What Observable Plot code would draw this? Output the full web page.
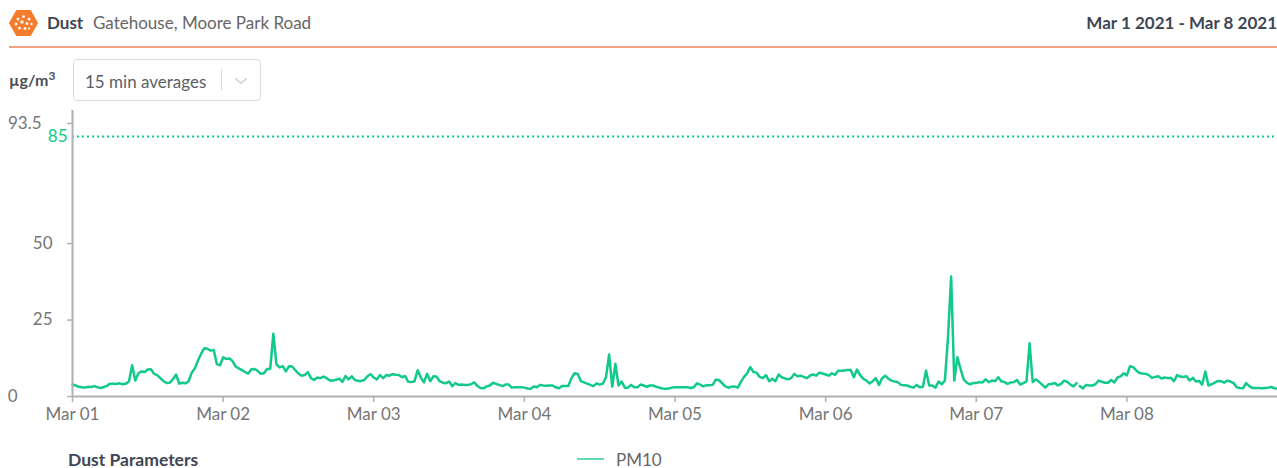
<!DOCTYPE html>
<html><head><meta charset="utf-8">
<style>
html,body{margin:0;padding:0;background:#fff;width:1277px;height:468px;overflow:hidden;font-family:Lato,sans-serif}
#wrap{position:relative;width:1277px;height:468px}
#head{position:relative;height:102px}
.abs{position:absolute;white-space:nowrap;line-height:1}
#chart svg{display:block}
#foot{position:relative;height:28px}
</style>
</head><body>
<div id="wrap">
<div id="head">
<svg class="abs" style="left:9px;top:10px" width="29" height="26" viewBox="0 0 29 26">
<polygon points="7.5,0.5 21.5,0.5 28.5,13 21.5,25.5 7.5,25.5 0.5,13" fill="#f47c2c" stroke="#f47c2c" stroke-linejoin="round" stroke-width="1"/>
<g fill="#fff" opacity="0.9"><circle cx="9" cy="9" r="1.5"/><circle cx="14.5" cy="6.5" r="1.5"/><circle cx="20" cy="9" r="1.5"/><circle cx="7" cy="14" r="1.5"/><circle cx="13" cy="12" r="1.8"/><circle cx="18" cy="13.5" r="1.5"/><circle cx="22.5" cy="14" r="1.2"/><circle cx="10.5" cy="18" r="1.5"/><circle cx="16" cy="18.5" r="1.5"/><circle cx="20" cy="18.5" r="1.1"/></g>
</svg>
<div class="abs" style="left:47px;top:14px;font-size:17px;font-weight:700;color:#3f4654">Dust</div>
<div class="abs" style="left:93px;top:14px;font-size:17px;color:#666">Gatehouse, Moore Park Road</div>
<div class="abs" style="right:0;top:14px;font-size:17px;font-weight:700;color:#3f4654">Mar 1 2021 - Mar 8 2021</div>
<div class="abs" style="left:9px;top:46px;width:1268px;height:2px;background:#f0a485"></div>
<div class="abs" style="left:9px;top:72px;font-size:16px;font-weight:700;color:#4a505c">µg/m<sup style="font-size:12px;line-height:0">3</sup></div>
<div class="abs" style="left:73px;top:59px;width:186px;height:40px;border:1px solid #d9dde2;border-radius:4px"></div>
<div class="abs" style="left:85px;top:73px;font-size:17px;color:#5a5f66">15 min averages</div>
<div class="abs" style="left:221px;top:69px;width:1px;height:21px;background:#d9d9d9"></div>
<svg class="abs" style="left:234px;top:77px" width="14" height="8"><path d="M1.5 1.5 L7 6.5 L12.5 1.5" fill="none" stroke="#cfcfcf" stroke-width="1.6"/></svg>
</div>
<div id="chart"></div>
<div id="foot">
<div class="abs" style="left:68px;top:12px;height:15px;line-height:15px;font-size:17.5px;font-weight:700;color:#3f4654">Dust Parameters</div>
<div class="abs" style="left:577px;top:18px;width:27px;height:2px;background:#5fdcb0"></div>
<div class="abs" style="left:616px;top:12px;height:15px;line-height:15px;font-size:17px;color:#666">PM10</div>
</div>
</div>
<script src="https://cdn.jsdelivr.net/npm/d3@7"></script>
<script src="https://cdn.jsdelivr.net/npm/@observablehq/plot@0.6"></script>
<script>
// PM10 half-hourly readings (µg/m3), one list per day
const mar01 = [3.9,3.6,3.2,3.0,2.9,3.2,3.1,3.4,3.0,2.8,3.1,3.5,4.2,4.2,4.1,4.3,4.0,4.2,4.9,10.2,5.2,7.6,8.2,8.0,8.8,8.9,7.4,7.0,6.0,5.0,4.4,4.5,5.6,7.2,4.2,4.5,4.3,5.0,7.8,9.2,11.8,14.0,15.8,15.6,15.0,15.2,10.6,10.2];
const mar02 = [12.8,12.3,12.4,11.6,9.8,9.2,8.6,8.0,7.5,8.9,9.0,8.4,7.4,7.6,9.0,9.0,20.5,10.5,9.5,9.9,8.2,9.9,9.8,8.6,7.5,6.8,7.0,8.0,6.0,5.4,6.2,6.0,6.5,6.0,5.2,5.2,5.5,5.8,4.8,6.7,5.6,6.6,5.4,5.1,5.1,5.4,6.6,7.3];
const mar03 = [6.2,5.6,7.0,6.0,7.0,6.8,7.3,7.1,7.0,6.3,6.7,4.8,4.7,5.0,8.6,6.2,4.6,7.4,5.0,6.6,6.5,5.0,4.5,4.3,4.9,3.4,4.4,3.8,3.9,3.8,3.8,4.0,4.6,3.5,2.8,2.7,3.3,3.6,4.5,4.1,3.8,3.4,3.9,3.9,2.9,3.0,3.0,3.0];
const mar04 = [2.9,2.6,2.5,3.3,3.0,3.8,3.6,3.5,3.6,3.6,3.0,2.7,3.4,3.4,3.4,6.0,7.6,7.4,5.0,4.6,4.2,3.8,3.4,4.3,3.9,4.2,6.2,13.7,3.2,10.7,3.6,4.9,2.9,2.9,3.8,3.0,3.0,3.9,3.6,3.2,3.6,3.6,3.2,2.9,2.6,2.5,2.6,2.9];
const mar05 = [3.0,3.0,3.0,3.0,3.0,2.8,3.0,4.3,3.9,3.3,3.7,3.7,3.8,5.5,5.4,4.4,3.3,2.9,3.2,3.3,2.9,4.8,6.4,7.6,9.6,8.0,7.8,6.4,6.0,7.0,5.0,5.8,5.0,7.2,6.3,5.9,5.6,6.0,7.4,6.6,6.8,6.4,6.0,6.8,7.2,6.8,7.8,7.5];
const mar06 = [7.2,6.8,7.6,7.1,8.4,8.4,8.5,8.7,8.7,6.3,8.8,7.0,5.8,5.2,4.3,5.0,6.0,3.8,6.0,6.8,5.8,5.2,4.9,4.7,3.8,3.7,3.6,3.2,2.9,3.8,3.0,3.2,8.5,3.6,3.6,2.9,4.9,4.0,5.2,19.4,39.2,5.2,12.8,9.0,5.6,4.5,4.0,4.4];
const mar07 = [4.4,4.7,4.6,5.6,4.7,5.2,5.0,6.3,5.0,4.7,4.1,4.6,4.7,5.4,3.9,4.4,4.9,17.4,4.7,5.6,4.8,3.9,2.9,4.0,4.1,4.4,3.6,4.1,5.2,4.8,3.9,3.3,4.4,3.4,2.6,3.8,3.6,3.6,4.0,5.2,4.8,4.5,4.5,5.4,4.6,6.2,6.6,7.6];
const mar08 = [6.9,9.9,9.6,8.5,7.7,7.5,7.4,7.0,6.1,6.4,6.6,5.9,6.2,6.0,6.1,5.0,7.0,6.5,6.4,6.6,5.2,6.1,4.9,5.1,3.9,8.2,3.6,4.0,4.5,5.1,5.0,4.5,5.2,4.9,4.4,3.0,2.8,2.7,4.4,3.4,2.8,2.8,2.8,2.7,2.8,2.9,3.1,2.7];
const lastReading = [2.6];
const gapTimes = ["2021-03-07T16:15Z"];

const seriesStart = new Date("2021-03-01T00:00Z");
const seriesEnd = new Date("2021-03-09T00:00Z");
const dayTicks = d3.utcDay.range(seriesStart, new Date("2021-03-08T12:00Z"));
const yLimit = 85, yTop = 93.5;
const green = "#10c98a", axisGrey = "#b0b0b0", labelGrey = "#757575";

const readings = [...mar01,...mar02,...mar03,...mar04,...mar05,...mar06,...mar07,...mar08,...lastReading]
  .map((v,i)=>({t:d3.utcMinute.offset(seriesStart,i*30),v}));
const rows = [...readings,...gapTimes.map(s=>({t:new Date(s),v:null}))].sort((a,b)=>a.t-b.t);

const axisCommon = {anchor:"left",tickSize:5,stroke:axisGrey,color:labelGrey,label:null,strokeWidth:1.5};
const chart = Plot.plot({
  width:1277,height:338,
  marginLeft:72,marginRight:0,marginTop:8,marginBottom:44,
  style:{fontFamily:"Lato,sans-serif",fontSize:"17px",background:"#fff",color:labelGrey},
  x:{type:"utc",domain:[seriesStart,seriesEnd],axis:null},
  y:{domain:[0,yTop],axis:null},
  marks:[
    Plot.ruleY([yLimit],{stroke:green,strokeWidth:2,strokeDasharray:"2 3"}),
    Plot.line(rows,{x:"t",y:"v",stroke:green,strokeWidth:2.5,curve:"linear"}),
    Plot.ruleX([seriesStart],{stroke:axisGrey,strokeWidth:2}),
    Plot.ruleY([0],{stroke:axisGrey,strokeWidth:2}),
    Plot.axisX(dayTicks,{anchor:"bottom",tickSize:6,tickPadding:5,stroke:axisGrey,strokeWidth:1.5,color:labelGrey,label:null,tickFormat:d3.utcFormat("%b %d")}),
    Plot.axisY([25,50],{...axisCommon,tickPadding:15}),
    Plot.axisY([0],{...axisCommon,tickPadding:50,tickSize:5}),
    Plot.axisY([yTop],{...axisCommon,tickPadding:26,tickFormat:d=>String(d),dy:13}),
    Plot.axisY([yLimit],{anchor:"left",tickSize:0,tickPadding:5,color:green,label:null})
  ]
});
document.getElementById("chart").appendChild(chart);
</script>
</body></html>
